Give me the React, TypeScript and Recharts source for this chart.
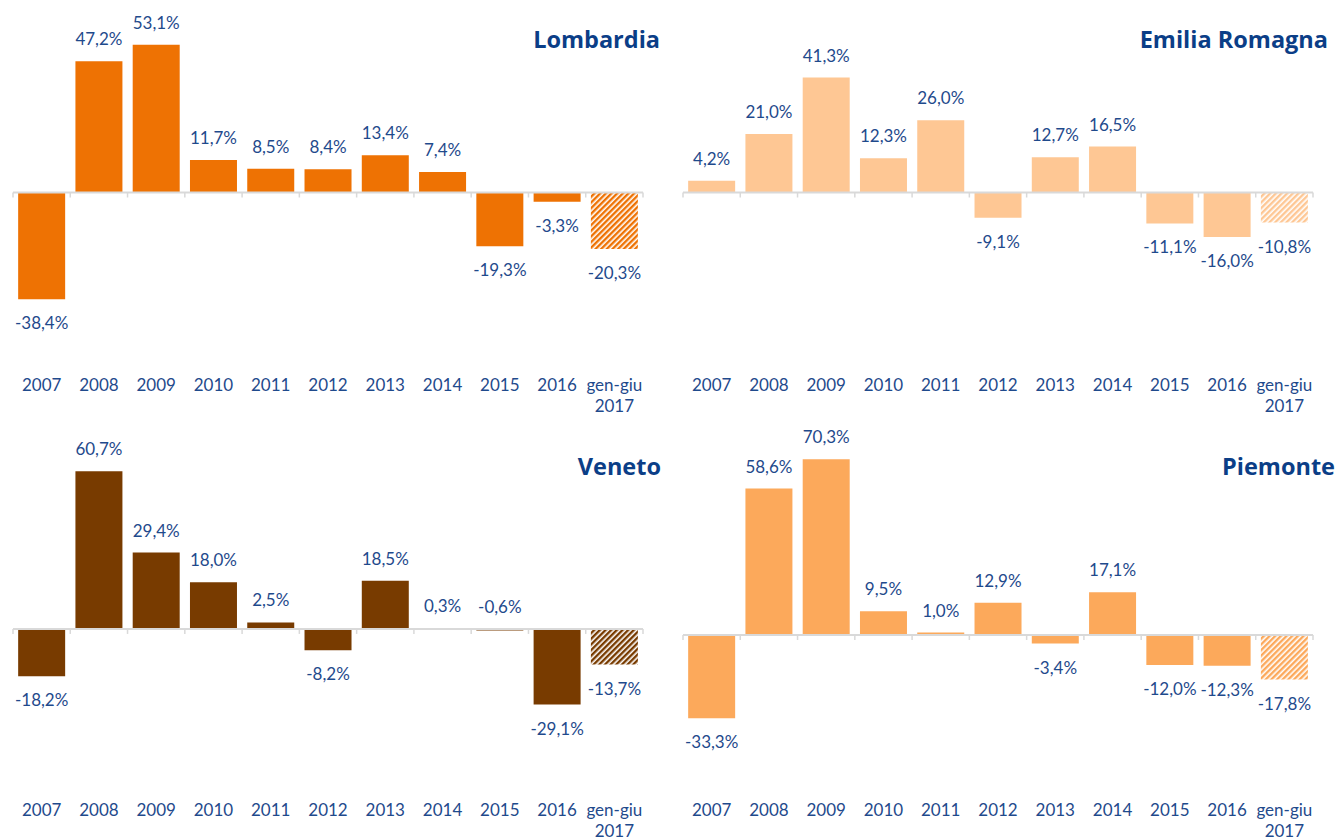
import { BarChart, Bar, XAxis, YAxis, Cell, LabelList, ReferenceLine } from 'recharts';

const categories = ['2007', '2008', '2009', '2010', '2011', '2012', '2013', '2014', '2015', '2016', 'gen-giu\n2017'];

const lombardia = [-38.4, 47.2, 53.1, 11.7, 8.5, 8.4, 13.4, 7.4, -19.3, -3.3, -20.3];
const emiliaRomagna = [4.2, 21.0, 41.3, 12.3, 26.0, -9.1, 12.7, 16.5, -11.1, -16.0, -10.8];
const veneto = [-18.2, 60.7, 29.4, 18.0, 2.5, -8.2, 18.5, 0.3, -0.6, -29.1, -13.7];
const piemonte = [-33.3, 58.6, 70.3, 9.5, 1.0, 12.9, -3.4, 17.1, -12.0, -12.3, -17.8];

const TEXT = '#1F4A8C';
const TITLE = '#0B3E87';
const FONT = 'Lato, "Open Sans", sans-serif';

const fmt = (v: number) => v.toFixed(1).replace('.', ',') + '%';

function CatTick(props: any) {
  const { x, y, payload } = props;
  const lines = String(payload.value).split('\n');
  return (
    <text x={x} y={y} textAnchor="middle" fill={TEXT} fontSize={17} fontFamily={FONT}>
      {lines.map((l, i) => (
        <tspan key={i} x={x} dy={i === 0 ? 26 : 21}>
          {l}
        </tspan>
      ))}
    </text>
  );
}

const renderLabel = (props: any) => {
  const x = Number(props.x);
  const y = Number(props.y);
  const w = Number(props.width);
  const h = Number(props.height);
  const value = Number(props.value);
  const top = Math.min(y, y + h);
  const bottom = Math.max(y, y + h);
  // tiny negatives sit above the axis, like in the source
  const above = value >= 0 || Math.abs(value) < 1;
  const ty = above ? top - 16 : bottom + 30;
  return (
    <text x={x + w / 2} y={ty} textAnchor="middle" fill={TEXT} fontSize={17} fontFamily={FONT}>
      {fmt(value)}
    </text>
  );
};

const axisShape = (n: number) => (props: any) => {
  const x1 = Number(props.x1);
  const x2 = Number(props.x2);
  const y = Number(props.y1);
  const step = (x2 - x1) / n;
  return (
    <g>
      <line x1={x1} x2={x2} y1={y} y2={y} stroke="#D9D9D9" strokeWidth={2} />
      {Array.from({ length: n + 1 }, (_, i) => (
        <line key={i} x1={x1 + i * step} x2={x1 + i * step} y1={y} y2={y + 5} stroke="#D9D9D9" strokeWidth={1.5} />
      ))}
    </g>
  );
};

interface PanelProps {
  id: string;
  left: number;
  top: number;
  height: number;
  axisHeight: number;
  values: number[];
  color: string;
  domain: [number, number];
}

function Panel({ id, left, top, height, axisHeight, values, color, domain }: PanelProps) {
  const data = categories.map((c, i) => ({ cat: c, v: values[i] }));
  return (
    <div style={{ position: 'absolute', left, top }}>
      <BarChart
        width={660}
        height={height}
        data={data}
        margin={{ top: 20, right: 17, left: 13, bottom: 0 }}
        barCategoryGap="9%"
      >
        <defs>
          <pattern id={id} patternUnits="userSpaceOnUse" width={4} height={4} patternTransform="rotate(45)">
            <rect width={4} height={4} fill="#fff" />
            <rect width={2.4} height={4} fill={color} />
          </pattern>
        </defs>
        <XAxis
          dataKey="cat"
          axisLine={false}
          tickLine={false}
          tickSize={0}
          tickMargin={0}
          height={axisHeight}
          interval={0}
          tick={<CatTick />}
        />
        <YAxis hide type="number" domain={domain} allowDataOverflow />
        <Bar dataKey="v" fill={color} isAnimationActive={false}>
          {data.map((d, i) => (
            <Cell key={d.cat} fill={i === data.length - 1 ? `url(#${id})` : color} />
          ))}
          <LabelList dataKey="v" content={renderLabel} />
        </Bar>
        <ReferenceLine y={0} shape={axisShape(categories.length)} />
      </BarChart>
    </div>
  );
}

export default function App() {
  return (
    <div style={{ position: 'absolute', left: 0, top: 0, width: 1339, height: 840, background: '#fff', overflow: 'hidden' }}>
      <Panel id="h-lom" left={0} top={0} height={425} axisHeight={60} values={lombardia} color="#EE7203" domain={[-62, 62]} />
      <Panel id="h-emi" left={670} top={0} height={425} axisHeight={60} values={emiliaRomagna} color="#FEC794" domain={[-62, 62]} />
      <Panel id="h-ven" left={0} top={425} height={415} axisHeight={50} values={veneto} color="#783B00" domain={[-62, 70.8]} />
      <Panel id="h-pie" left={670} top={425} height={415} axisHeight={50} values={piemonte} color="#FCA95B" domain={[-62, 76]} />
      <svg width={1339} height={840} style={{ position: 'absolute', left: 0, top: 0, pointerEvents: 'none' }}>
        <g fontFamily='"Open Sans", Lato, sans-serif' fontWeight={700} fontSize={23.5} fill={TITLE} textAnchor="end">
          <text x={660} y={48}>Lombardia</text>
          <text x={1328} y={48}>Emilia Romagna</text>
          <text x={661} y={475}>Veneto</text>
          <text x={1335} y={475}>Piemonte</text>
        </g>
      </svg>
    </div>
  );
}
